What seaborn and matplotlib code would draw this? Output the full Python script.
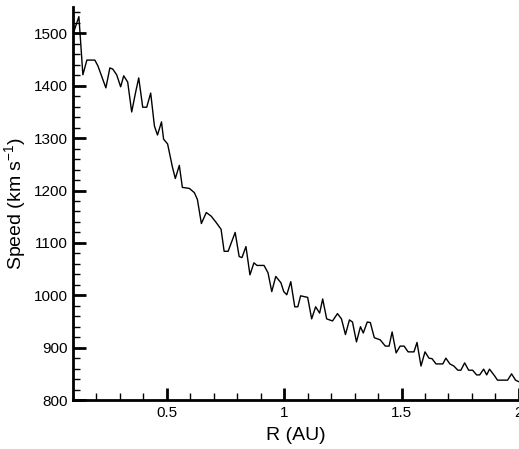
import numpy as np
import pandas as pd
import matplotlib
matplotlib.use("Agg")
import matplotlib.pyplot as plt
import seaborn as sns
from matplotlib.ticker import MultipleLocator

# R (AU) and speed (km/s)
r_au = [0.100, 0.104, 0.125, 0.142, 0.159, 0.193, 0.206, 0.240, 0.257, 0.269,
        0.286, 0.303, 0.316, 0.333, 0.350, 0.367, 0.380, 0.397, 0.414, 0.431,
        0.447, 0.460, 0.477, 0.486, 0.503, 0.524, 0.536, 0.553, 0.566, 0.596,
        0.617, 0.630, 0.647, 0.668, 0.689, 0.710, 0.731, 0.744, 0.761, 0.791,
        0.808, 0.820, 0.837, 0.854, 0.871, 0.884, 0.914, 0.931, 0.947, 0.964,
        0.986, 0.998, 1.011, 1.028, 1.045, 1.058, 1.070, 1.100, 1.117, 1.134,
        1.151, 1.164, 1.181, 1.206, 1.227, 1.244, 1.261, 1.278, 1.291, 1.308,
        1.325, 1.337, 1.354, 1.367, 1.384, 1.409, 1.431, 1.447, 1.460, 1.477,
        1.494, 1.511, 1.528, 1.553, 1.566, 1.583, 1.600, 1.617, 1.630, 1.647,
        1.676, 1.689, 1.706, 1.723, 1.740, 1.753, 1.769, 1.786, 1.803, 1.820,
        1.833, 1.850, 1.863, 1.875, 1.897, 1.909, 1.952, 1.969, 1.986, 2.000]
speed = [1500, 1504, 1532, 1421, 1449, 1449, 1438, 1396, 1434, 1432,
         1421, 1398, 1419, 1407, 1350, 1388, 1415, 1359, 1359, 1386,
         1323, 1306, 1331, 1298, 1289, 1244, 1223, 1248, 1206, 1204,
         1196, 1183, 1137, 1158, 1151, 1139, 1126, 1084, 1084, 1120,
         1074, 1072, 1093, 1039, 1062, 1057, 1057, 1043, 1007, 1036,
         1024, 1007, 1001, 1026, 978, 978, 999, 996, 955, 978,
         966, 993, 955, 951, 965, 955, 925, 953, 949, 911,
         940, 928, 949, 948, 919, 915, 903, 903, 930, 890,
         903, 903, 892, 892, 910, 865, 892, 880, 879, 869,
         869, 880, 869, 865, 857, 857, 871, 857, 857, 848,
         848, 859, 848, 859, 846, 838, 838, 850, 838, 835]

df = pd.DataFrame({"R": r_au, "Speed": speed})

sns.set_style("ticks", {"axes.edgecolor": "black", "xtick.color": "black",
                        "ytick.color": "black", "text.color": "black",
                        "axes.labelcolor": "black"})
plt.rcParams["font.family"] = ["Liberation Sans", "DejaVu Sans"]

fig = plt.figure(figsize=(5.19, 4.49), dpi=100)
ax = fig.add_axes([0.1407, 0.109, 0.859, 0.875])

sns.lineplot(data=df, x="R", y="Speed", color="black", linewidth=1.0, ax=ax,
             estimator=None, sort=False)

ax.set_xlim(0.1, 2.0)
ax.set_ylim(800, 1550)
ax.xaxis.set_minor_locator(MultipleLocator(0.1))
ax.yaxis.set_major_locator(MultipleLocator(100))
ax.yaxis.set_minor_locator(MultipleLocator(20))
ax.set_xticks([0.5, 1.0, 1.5, 2.0])
ax.set_xticklabels(["0.5", "1", "1.5", "2"])

ax.tick_params(which="major", direction="in", length=9, width=2, labelsize=11,
               pad=4, colors="black")
ax.tick_params(which="minor", direction="in", length=5, width=1, colors="black")
for side in ["left", "bottom"]:
    ax.spines[side].set_linewidth(2)
    ax.spines[side].set_color("black")
sns.despine(ax=ax)

ax.set_xlabel("R (AU)", fontsize=14, labelpad=5, color="black")
ax.set_ylabel("Speed (km s$^{\\mathregular{-1}}$)", fontsize=14, labelpad=3, color="black")

fig.savefig("out.png", dpi=100)
